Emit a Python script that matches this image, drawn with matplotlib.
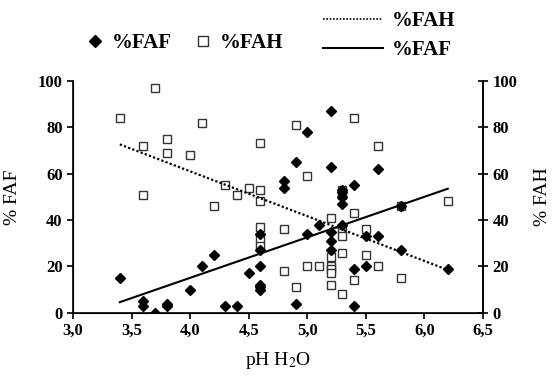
import numpy as np
from matplotlib import pyplot as plt
from matplotlib.lines import Line2D

plt.rcParams['font.family'] = ['Liberation Serif', 'DejaVu Serif']
plt.rcParams['mathtext.fontset'] = 'stix'

# %FAF (diamonds)
faf_ph = [3.4, 3.6, 3.6, 3.7, 3.8, 3.8, 4.0, 4.1, 4.2, 4.3, 4.4, 4.5,
          4.6, 4.6, 4.6, 4.6, 4.6, 4.6, 4.8, 4.8, 4.9, 4.9, 5.0, 5.0, 5.1,
          5.2, 5.2, 5.2, 5.2, 5.2, 5.3, 5.3, 5.3, 5.3, 5.3,
          5.4, 5.4, 5.4, 5.5, 5.5, 5.6, 5.6, 5.8, 5.8, 6.2]
faf_val = [15, 5, 3, 0, 4, 3, 10, 20, 25, 3, 3, 17,
           34, 27, 20, 12, 11, 10, 57, 54, 65, 4, 78, 34, 38,
           87, 63, 35, 31, 27, 53, 52, 50, 47, 38,
           55, 19, 3, 33, 20, 62, 33, 46, 27, 19]

# %FAH (squares)
fah_ph = [3.4, 3.6, 3.6, 3.7, 3.8, 3.8, 4.0, 4.1, 4.2, 4.3, 4.4, 4.5,
          4.6, 4.6, 4.6, 4.6, 4.6, 4.6, 4.8, 4.8, 4.9, 4.9, 5.0, 5.0, 5.1,
          5.2, 5.2, 5.2, 5.2, 5.2, 5.2, 5.3, 5.3, 5.3, 5.3, 5.3, 5.3,
          5.4, 5.4, 5.4, 5.5, 5.5, 5.6, 5.6, 5.8, 5.8, 6.2]
fah_val = [84, 72, 51, 97, 75, 69, 68, 82, 46, 55, 51, 54,
           73, 53, 48, 37, 32, 29, 36, 18, 81, 11, 59, 20, 20,
           41, 24, 20, 19, 17, 12, 53, 51, 36, 33, 26, 8,
           84, 43, 14, 36, 25, 72, 20, 46, 15, 48]

# trend lines (end points)
trend_ph = [3.4, 6.2]
trend_faf = [4.6, 53.5]
trend_fah = [72.6, 18.5]

fig = plt.figure(figsize=(5.57, 3.76), dpi=100)
ax = fig.add_axes([0.131, 0.168, 0.736, 0.617])

ax.plot(faf_ph, faf_val, 'D', color='black', markersize=4.6, linestyle='none', zorder=3)
ax.plot(fah_ph, fah_val, 's', markerfacecolor='white', markeredgecolor='#333333',
        markeredgewidth=1.0, markersize=6, linestyle='none', zorder=2)
ax.plot(trend_ph, trend_faf, '-', color='black', lw=1.5, zorder=4)
ax.plot(trend_ph, trend_fah, linestyle=(0, (1, 1)), color='black', lw=1.6, zorder=4)

ax.set_xlim(3.0, 6.5)
ax.set_ylim(0, 100)
xt = np.arange(3.0, 6.51, 0.5)
ax.set_xticks(xt)
ax.set_xticklabels([('%.1f' % v).replace('.', ',') for v in xt])
ax.set_yticks(range(0, 101, 20))
ax.spines['top'].set_visible(False)
for s in ['left', 'bottom', 'right']:
    ax.spines[s].set_linewidth(1.2)
ax.tick_params(direction='out', length=4, width=1.2, labelsize=12)
for lbl in ax.get_xticklabels() + ax.get_yticklabels():
    lbl.set_fontweight('bold')

ax2 = ax.twinx()
ax2.set_ylim(0, 100)
ax2.set_yticks(range(0, 101, 20))
ax2.spines['top'].set_visible(False)
ax2.spines['right'].set_linewidth(1.2)
ax2.tick_params(direction='inout', length=7, width=1.2, labelsize=12)
for lbl in ax2.get_yticklabels():
    lbl.set_fontweight('bold')

ax.set_xlabel('pH H$_2$O', fontsize=14, labelpad=8)
ax.set_ylabel('% FAF', fontsize=14, labelpad=12)
ax2.set_ylabel('% FAH', fontsize=14, labelpad=12)

h1 = [Line2D([], [], marker='D', color='black', markersize=6, linestyle='none'),
      Line2D([], [], marker='s', markerfacecolor='white', markeredgecolor='#333333',
             markersize=7, linestyle='none')]
fig.legend(h1, ['%FAF', '%FAH'], ncol=2, loc='center left', bbox_to_anchor=(0.118, 0.885),
           frameon=False, prop={'weight': 'bold', 'size': 15}, handletextpad=0.3,
           columnspacing=1.0, handlelength=1.0)
h2 = [Line2D([], [], color='black', linestyle=(0, (1, 1)), lw=1.2),
      Line2D([], [], color='black', linestyle='-', lw=1.5)]
fig.legend(h2, ['%FAH', '%FAF'], loc='center left', bbox_to_anchor=(0.546, 0.905),
           frameon=False, prop={'weight': 'bold', 'size': 15}, handletextpad=0.4,
           handlelength=2.9, labelspacing=0.45)

fig.savefig('out.png', dpi=100)
